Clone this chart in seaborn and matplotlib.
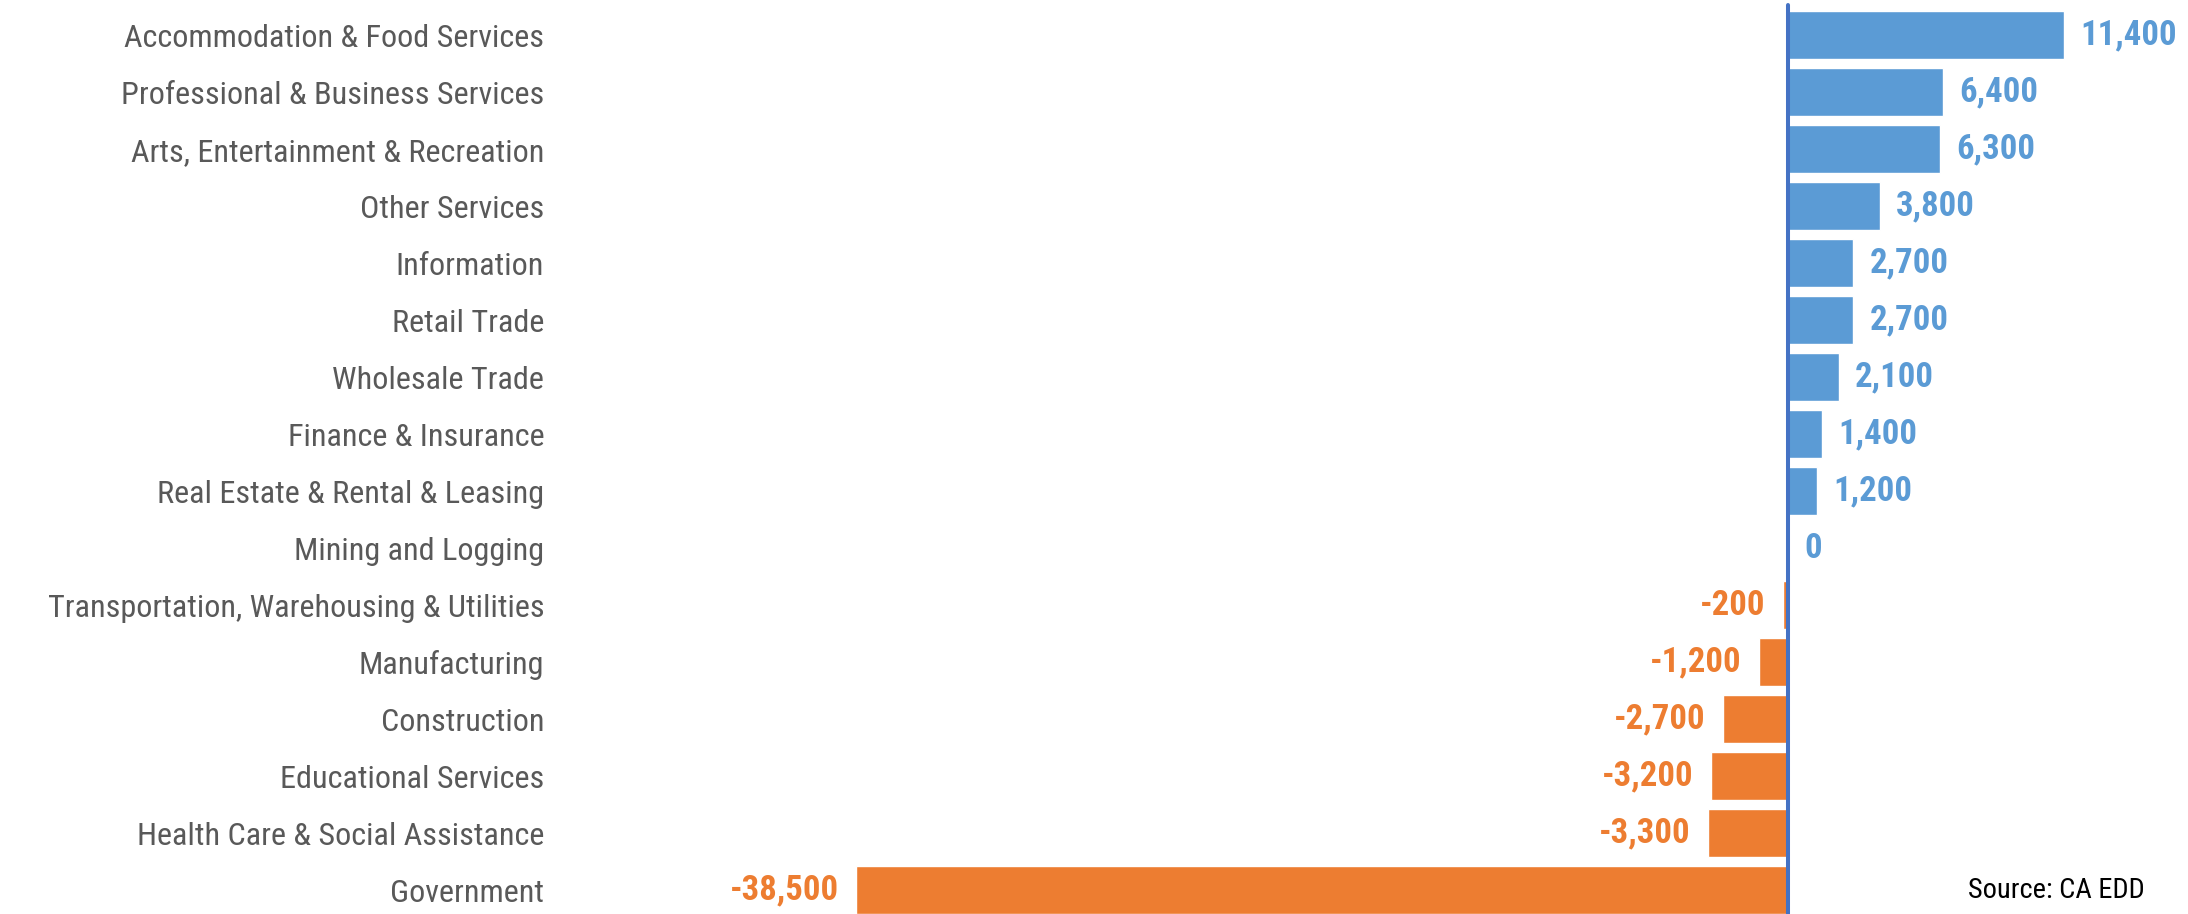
import matplotlib
matplotlib.use("Agg")
import matplotlib.pyplot as plt
from matplotlib import font_manager
import seaborn as sns
import pandas as pd

categories = [
    "Accommodation & Food Services",
    "Professional & Business Services",
    "Arts, Entertainment & Recreation",
    "Other Services",
    "Information",
    "Retail Trade",
    "Wholesale Trade",
    "Finance & Insurance",
    "Real Estate & Rental & Leasing",
    "Mining and Logging",
    "Transportation, Warehousing & Utilities",
    "Manufacturing",
    "Construction",
    "Educational Services",
    "Health Care & Social Assistance",
    "Government",
]
values = [11400, 6400, 6300, 3800, 2700, 2700, 2100, 1400, 1200, 0,
          -200, -1200, -2700, -3200, -3300, -38500]
source_text = "Source: CA EDD"

POS = "#5B9BD5"
NEG = "#ED7D31"
AXIS = "#4472C4"

sns.set_theme(style="white")
names = {f.name for f in font_manager.fontManager.ttflist}
narrow = None
sizes = None
if "Liberation Sans Narrow" in names:
    narrow = "Liberation Sans Narrow"
    sizes = (20.2, 26.6, 19.4)
elif "Arial Narrow" in names:
    narrow = "Arial Narrow"
    sizes = (20.2, 26.6, 19.4)
elif "Roboto Condensed" in names:
    narrow = "Roboto Condensed"
    sizes = (23.2, 25.0, 20.5)
else:
    narrow = "Liberation Sans"
    sizes = (17.0, 22.0, 16.5)
plt.rcParams['font.family'] = [narrow, 'DejaVu Sans']
cat_fs, val_fs, src_fs = sizes

df = pd.DataFrame({"category": categories, "value": values})
df["sign"] = ["pos" if v >= 0 else "neg" for v in values]

W, H = 2188, 914
fig = plt.figure(figsize=(W / 100, H / 100), dpi=100)
ax = fig.add_axes([556 / W, 0, 1 - 556 / W, 1])

sns.barplot(data=df, x="value", y="category", hue="sign",
            palette={"pos": POS, "neg": NEG}, dodge=False, width=0.84,
            legend=False, ax=ax, orient="h", saturation=1)

px_per_unit = 0.0242
ax.set_xlim((556 - 1788) / px_per_unit, (W - 1788) / px_per_unit)
ax.set_ylim(15.42, -0.62)

for s in ax.spines.values():
    s.set_visible(False)
ax.set_xticks([])
ax.set_xlabel("")
ax.set_ylabel("")
ax.tick_params(axis="y", length=0, pad=8.5, labelsize=cat_fs, labelcolor="#595959")

ax.axvline(0, ymin=0, ymax=1 - 5 / H, color=AXIS, lw=2.9, zorder=5)

for i, v in enumerate(values):
    col = POS if v >= 0 else NEG
    off = 11.5 if v >= 0 else -12.5
    ax.annotate(f"{v:,}", xy=(v, i), xytext=(off, 0), textcoords="offset points",
                ha="left" if v >= 0 else "right", va="center",
                fontsize=val_fs, fontweight="bold", color=col)

fig.text(2145 / W, 1 - 890 / H, source_text, ha="right", va="center",
         fontsize=src_fs, color="black")

fig.savefig("out.png", dpi=100)
